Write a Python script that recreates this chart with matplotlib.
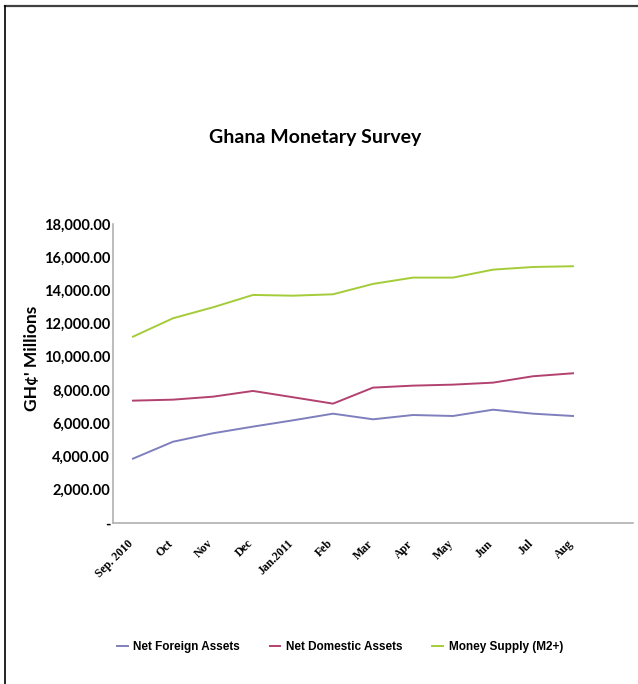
import matplotlib
matplotlib.use("Agg")
import matplotlib.pyplot as plt
from matplotlib.lines import Line2D
from matplotlib.ticker import FuncFormatter

# ─── data (GH¢ millions) ───
months = ['Sep. 2010', 'Oct', 'Nov', 'Dec', 'Jan.2011', 'Feb',
          'Mar', 'Apr', 'May', 'Jun', 'Jul', 'Aug']
net_foreign  = [3860, 4880, 5390, 5790, 6170, 6570, 6230, 6490, 6430, 6810, 6570, 6430]
net_domestic = [7355, 7415, 7595, 7940, 7560, 7175, 8140, 8260, 8320, 8440, 8825, 9005]
money_supply = [11210, 12320, 12980, 13725, 13680, 13765, 14390, 14770, 14770, 15250, 15410, 15455]

series_names  = ['Net Foreign Assets', 'Net Domestic Assets', 'Money Supply (M2+)']
series_colors = ['#7f7fbd', '#b3416f', '#a4cc38']

W, H = 638, 684
fig = plt.figure(figsize=(W / 100, H / 100), dpi=100)
fig.patch.set_facecolor('white')

# frame lines of the original sheet (top + left only)
fig.add_artist(Line2D([5 / W, 1], [1 - 6 / H, 1 - 6 / H], color='#404040', lw=1.6))
fig.add_artist(Line2D([5 / W, 5 / W], [0, 1 - 6 / H], color='black', lw=1.2))

ax = fig.add_axes([113 / W, 161.3 / H, 520 / W, 298.7 / H])

x = list(range(len(months)))
for vals, name, col in zip([net_foreign, net_domestic, money_supply], series_names, series_colors):
    ax.plot(x, vals, color=col, lw=1.4, label=name)

ax.set_xlim(-0.5, 12.5)
ax.set_ylim(0, 18000)
ax.set_yticks(range(0, 18001, 2000))
ax.yaxis.set_major_formatter(FuncFormatter(lambda v, p: '-' if v == 0 else f'{v:,.2f}'))
ax.set_xticks(x, labels=[''] * len(months))

# slanted month labels, sitting slightly left of each category
for i, m in enumerate(months):
    ax.annotate(m, xy=(i, 0), xycoords=('data', 'axes fraction'),
                xytext=(-6, -15), textcoords='offset pixels',
                rotation=45, ha='right', va='top', rotation_mode='anchor',
                fontfamily='Liberation Serif', fontweight='bold', fontsize=8.5)

for lab in ax.get_yticklabels():
    lab.set_fontfamily('Lato')
    lab.set_fontweight('bold')
    lab.set_fontsize(10.5)
ax.tick_params(axis='y', length=0, pad=2)
ax.tick_params(axis='x', length=0)

for s in ['top', 'right']:
    ax.spines[s].set_visible(False)
for s in ['left', 'bottom']:
    ax.spines[s].set_color('#b0b0b0')
    ax.spines[s].set_linewidth(1.2)

ax.set_ylabel("GH¢' Millions", fontfamily='Lato', fontweight='bold', fontsize=12.5)
ax.yaxis.set_label_coords(-0.141, 0.55)

fig.text(315 / W, 1 - 138 / H, 'Ghana Monetary Survey', ha='center', va='center',
         fontfamily='Lato', fontweight='bold', fontsize=14)

fig.legend(loc='center', bbox_to_anchor=(340 / W, 37 / H), ncol=3, frameon=False,
           handlelength=0.9, columnspacing=2.5, handletextpad=0.5,
           prop={'family': 'Liberation Sans', 'weight': 'bold', 'size': 8.5})

plt.savefig('out.png', dpi=100)
plt.close()
